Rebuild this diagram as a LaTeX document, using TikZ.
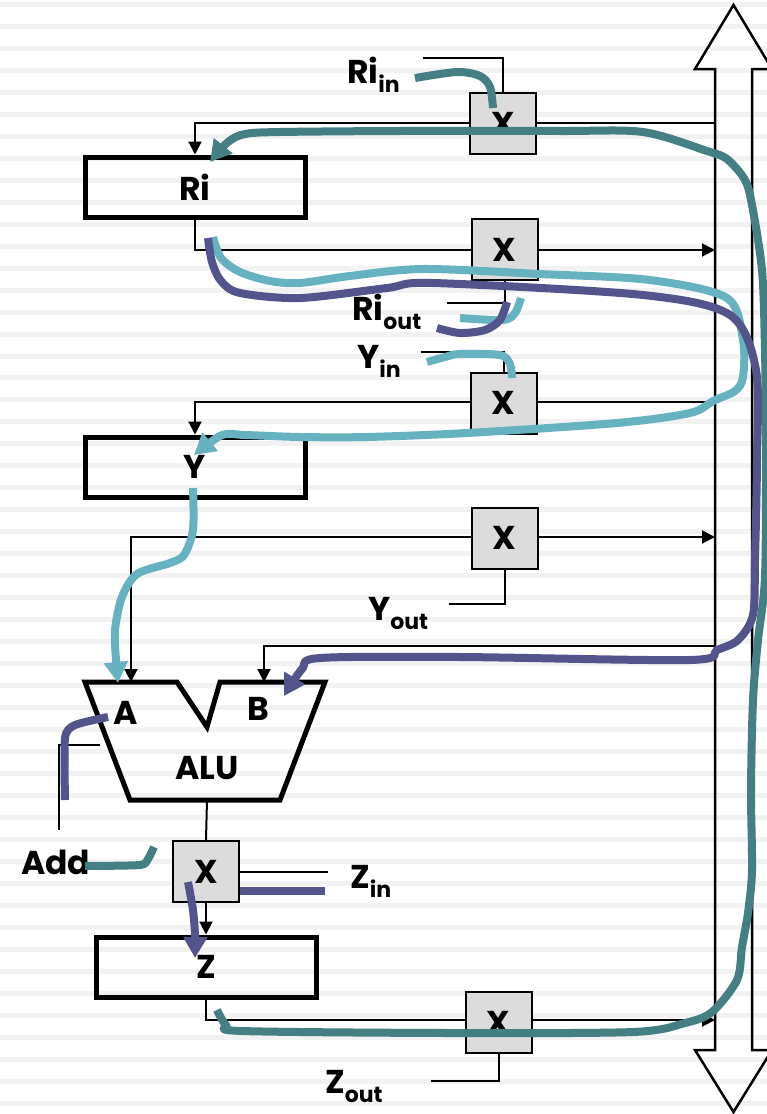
\documentclass[tikz,border=0pt]{standalone}
\usepackage{fontspec}
\setmainfont{Poppins}
\usetikzlibrary{arrows.meta}
\pgfdeclarelayer{stripes}
\pgfdeclarelayer{wires}
\pgfdeclarelayer{front}
\pgfsetlayers{stripes,wires,main,front}
\definecolor{cteal}{HTML}{437F83}
\definecolor{clight}{HTML}{67B2C0}
\definecolor{cpurple}{HTML}{54548C}
\definecolor{muxgray}{HTML}{DCDCDC}
\definecolor{stripe}{HTML}{F2F2F2}
\newcommand{\bigf}{\fontsize{33}{33}\selectfont\bfseries}
\newcommand{\lbl}[2]{#1\raisebox{-9pt}{\fontsize{22}{22}\selectfont\bfseries #2}}
\tikzset{
  reg/.style={draw, line width=5pt, minimum width=220pt, minimum height=60pt, inner sep=0pt, font=\bigf},
  mux/.style={draw, line width=2pt, fill=muxgray, minimum width=66pt, minimum height=61pt, inner sep=0pt, font=\bigf},
  wire/.style={line width=2pt},
  wtip/.style={-{Triangle[width=13pt,length=13pt]}},
  hand/.style={line width=8pt, line join=round},
  htip/.style={-{Triangle[width=23pt,length=21pt]}},
  lab/.style={anchor=base west, inner sep=0pt, font=\bigf},
  txt/.style={inner sep=0pt, font=\bigf},
}
\begin{document}
\begin{tikzpicture}[x=1pt,y=-1pt]
\useasboundingbox (0,0) rectangle (767,1114);
\clip (0,0) rectangle (767,1114);
% background stripes
\begin{pgfonlayer}{stripes}
\fill[white] (0,0) rectangle (767,1114);
\foreach \k in {0,...,50} \fill[stripe] (0,{2+21.97*\k}) rectangle (767,{7+21.97*\k});
\end{pgfonlayer}

% registers
\node[reg] (Ri) at (195,187) {Ri};
\node[reg] (Y) at (195,467) {Y};
\node[reg] (Z) at (206,967) {Z};

% multiplexers
\node[mux] (m1) at (503,123.5) {X};
\node[mux] (m2) at (504.5,249.5) {X};
\node[mux] (m3) at (503.5,403) {X};
\node[mux] (m4) at (504.5,538) {X};
\node[mux] (m5) at (206,871.5) {X};
\node[mux] (m6) at (498.5,1022.5) {X};

% ALU
\draw[line width=5pt, line join=miter] (85,682) -- (177,682) -- (207,727) -- (220,682) -- (325,682) -- (280,800) -- (130,800) -- cycle;
\coordinate (aluA) at (131,682);
\coordinate (aluB) at (264,682);
\coordinate (aluOut) at (207,800);
\coordinate (aluL) at (100,745);
\node[txt] (tA) at (126,713) {A};
\node[txt] (tB) at (258,709) {B};
\node[txt] (tALU) at (207,768) {ALU};

% bus
\draw[line width=2.5pt, line join=miter] (715,69) -- (695,69) -- (733.5,5) -- (772,69) -- (752,69) -- (752,1050) -- (772,1050) -- (733.5,1112) -- (695,1050) -- (715,1050) -- cycle;
\coordinate (b1) at (715,123);
\coordinate (b2) at (715,250);
\coordinate (b3) at (715,402);
\coordinate (b4) at (715,537);
\coordinate (b5) at (715,646);
\coordinate (b6) at (715,1020);

% control coordinates
\coordinate (c1) at (423,58);
\coordinate (c2) at (447,303);
\coordinate (c3) at (421,352);
\coordinate (c4) at (449,604);
\coordinate (c5) at (328,871.5);
\coordinate (c6) at (431,1081);
\coordinate (cadd) at (59,830);

% labels
\node[lab] (lRiin) at (347,83) {\lbl{Ri}{in}};
\node[lab] (lRiout) at (352,320) {\lbl{Ri}{out}};
\node[lab] (lYin) at (357,368) {\lbl{Y}{in}};
\node[lab] (lYout) at (368,620) {\lbl{Y}{out}};
\node[lab] (lAdd) at (21,874) {Add};
\node[lab] (lZin) at (350,888) {\lbl{Z}{in}};
\node[lab] (lZout) at (325,1093) {\lbl{Z}{out}};

% wires
\begin{pgfonlayer}{wires}
\draw[wire,wtip] (b1) -| (Ri.north);
\draw[wire,wtip] (Ri.south) |- (b2);
\draw[wire,wtip] (b3) -| (Y.north);
\draw[wire,wtip] (Y.south) |- (b4);
\draw[wire,wtip] (Y.south |- b4) -| (aluA);
\draw[wire,wtip] (b5) -| (aluB);
\draw[wire] (aluOut) -- (m5.north);
\draw[wire,wtip] (m5.south) -- (Z.north);
\draw[wire,wtip] (Z.south) |- (b6);
\draw[wire] (c1) -| (m1.north);
\draw[wire] (m2.south) |- (c2);
\draw[wire] (c3) -| (m3.north);
\draw[wire] (m4.south) |- (c4);
\draw[wire] (m5.east) -- (c5);
\draw[wire] (m6.south) |- (c6);
\draw[wire] (cadd) |- (aluL);
\end{pgfonlayer}

% hand-drawn control paths
\begin{pgfonlayer}{front}
% dark teal: Z out -> bus -> Ri in
\draw[hand,cteal,htip] plot[smooth,tension=0.5] coordinates {(217,1010) (226,1025) (242,1031) (450,1033) (633,1032) (685,1023) (712,1012) (737,980) (742,947) (748,913) (752,870) (751,790) (753,700) (758,640) (765,577) (766,450) (765,350) (762,270) (752,205) (745,180) (727,159) (707,151) (643,132) (560,131) (400,131) (280,132) (245,134) (228,142) (210,162)};
\draw[hand,cteal] plot[smooth,tension=0.5] coordinates {(415,78) (457,72) (480,76) (490,87) (493,108)};
\draw[hand,cteal] plot[smooth,tension=0.4] coordinates {(85,866) (140,865) (148,859) (154,847)};
% light blue: Ri out -> bus -> Y in
\draw[hand,clight,htip] plot[smooth,tension=0.5] coordinates {(213,237) (221,258) (240,272) (270,281) (300,283) (350,276) (423,269) (540,274) (650,280) (727,298) (743,340) (743,377) (735,391) (713,401) (690,413) (617,423) (467,433) (367,437) (300,437) (245,435) (222,435) (194,455)};
\draw[hand,clight] plot[smooth,tension=0.5] coordinates {(460,318) (503,320) (515,313) (521,298)};
\draw[hand,clight] plot[smooth,tension=0.5] coordinates {(427,362) (445,357) (460,354) (500,355) (510,364) (512,378)};
\draw[hand,clight,htip] plot[smooth,tension=0.5] coordinates {(193,488) (193,530) (184,555) (170,563) (137,574) (122,597) (115,630) (116,660) (118,683)};
% purple: Ri out -> bus -> B ; Add ; Z in
\draw[hand,cpurple,htip] plot[smooth,tension=0.5] coordinates {(208,238) (212,262) (221,281) (240,293) (300,298) (387,288) (433,283) (643,295) (730,315) (756,370) (757,460) (755,560) (753,615) (738,640) (717,650) (690,660) (460,657) (320,658) (302,669) (284,696)};
\draw[hand,cpurple] plot[smooth,tension=0.5] coordinates {(437,328) (460,333) (485,330) (500,320) (507,302)};
\draw[hand,cpurple] plot[smooth,tension=0.4] coordinates {(65,800) (65,738) (75,725) (108,717)};
\draw[hand,cpurple] (m5.east |- 0,891) -- (325,891);
\draw[hand,cpurple,htip] plot[smooth,tension=0.5] coordinates {(188,882) (193,910) (195,935) (195,958)};
\end{pgfonlayer}
\end{tikzpicture}
\end{document}
